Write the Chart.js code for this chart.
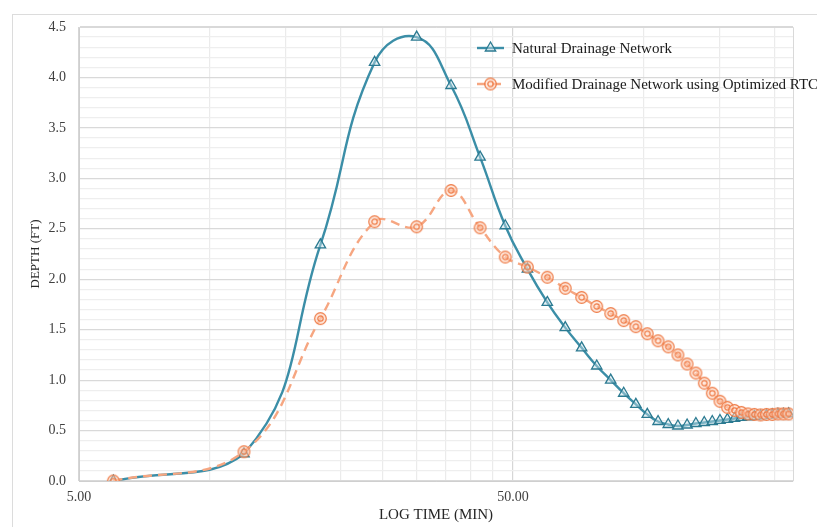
<!DOCTYPE html>
<html>
<head>
<meta charset="utf-8">
<script src="https://cdn.jsdelivr.net/npm/chart.js@4.4.1/dist/chart.umd.min.js"></script>
<style>
html,body{margin:0;padding:0;background:#fff;}
#wrap{width:817px;height:527px;position:relative;}
</style>
</head>
<body>
<div id="wrap"><canvas id="c" width="817" height="527"></canvas></div>
<script>
// ---- data ----
const timeMin = [6,12,18,24,30,36,42,48,54,60,66,72,78,84,90,96,102,108,114,120,126,132,138,144,150,156,162,168,174,180,186,192,198,204,210,216];
const naturalDepth = [0.00,0.27,2.34,4.15,4.40,3.92,3.21,2.53,2.10,1.77,1.52,1.32,1.14,1.00,0.87,0.76,0.66,0.59,0.56,0.545,0.555,0.57,0.58,0.59,0.60,0.61,0.62,0.63,0.635,0.64,0.645,0.65,0.655,0.66,0.66,0.665];
const modifiedDepth = [0.00,0.29,1.61,2.57,2.52,2.88,2.51,2.22,2.12,2.02,1.91,1.82,1.73,1.66,1.59,1.53,1.46,1.39,1.33,1.25,1.16,1.07,0.97,0.87,0.79,0.73,0.70,0.68,0.665,0.66,0.655,0.66,0.66,0.665,0.665,0.665];
const seriesNames = ['Natural Drainage Network','Modified Drainage Network using Optimized RTC'];
const xGridValues = [5,10,15,20,25,30,35,40,45,50,100,150,200];
const xLabelValues = [5,50];
const yLabelValues = [0,0.5,1,1.5,2,2.5,3,3.5,4,4.5];
const xTitle = 'LOG TIME (MIN)';
const yTitle = 'DEPTH (FT)';

const FONT = "'Liberation Serif','Times New Roman',serif";
const TEAL = '#3b8ea7';
const TEAL_MK = '#2b7a91';
const ORANGE = '#f6a681';
const ORANGE_MK = '#ee7a45';

// double-circle marker image
function makeRing(){
  const cv = document.createElement('canvas');
  cv.width = 15; cv.height = 15;
  const g = cv.getContext('2d');
  g.strokeStyle = ORANGE_MK; g.lineWidth = 1.2;
  g.fillStyle = 'rgba(255,215,195,0.55)';
  g.beginPath(); g.arc(7.5,7.5,5.8,0,Math.PI*2); g.fill(); g.stroke();
  g.beginPath(); g.arc(7.5,7.5,2.7,0,Math.PI*2); g.stroke();
  return cv;
}
const ring = makeRing();

const frame = {
  id:'frame',
  beforeDraw(chart){
    const c = chart.ctx;
    c.save();
    c.fillStyle = '#fff';
    c.fillRect(0,0,chart.width,chart.height);
    c.strokeStyle = '#dcdcdc'; c.lineWidth = 1;
    c.strokeRect(12.5,14.5,chart.width,chart.height);
    c.restore();
  },
  afterDatasetsDraw(chart){
    const a = chart.chartArea, c = chart.ctx;
    c.save();
    c.strokeStyle = '#d9d9d9'; c.lineWidth = 1;
    c.beginPath();
    c.moveTo(a.left, a.top+0.5); c.lineTo(a.right+0.5, a.top+0.5); c.lineTo(a.right+0.5, a.bottom);
    c.stroke();
    c.restore();
  },
  afterDraw(chart){
    const c = chart.ctx;
    const rows = [48, 84];
    chart.data.datasets.forEach((ds,i)=>{
      const y = rows[i];
      c.save();
      c.strokeStyle = ds.borderColor; c.lineWidth = ds.borderWidth;
      c.setLineDash(ds.borderDash || []);
      c.beginPath(); c.moveTo(477,y); c.lineTo(504,y); c.stroke();
      c.setLineDash([]);
      if (i===0){
        c.fillStyle = ds.pointBackgroundColor; c.strokeStyle = ds.pointBorderColor; c.lineWidth = 1.3;
        Chart.helpers.drawPoint(c,{pointStyle:'triangle',radius:6,borderWidth:1.3,rotation:0},490.5,y);
      } else {
        c.drawImage(ring, 490.5-7.5, y-7.5);
      }
      c.fillStyle = '#1a1a1a';
      c.font = "15px " + FONT;
      c.textBaseline = 'middle';
      c.fillText(ds.label, 512, y+1);
      c.restore();
    });
  }
};

const near = (v, arr) => arr.some(a => Math.abs(a - v) < 1e-6);

new Chart(document.getElementById('c'), {
  type:'line',
  data:{
    datasets:[
      {
        label: seriesNames[0],
        data: timeMin.map((t,i)=>({x:t,y:naturalDepth[i]})),
        borderColor: TEAL, borderWidth: 2.4, tension: 0.45,
        pointStyle:'triangle', pointRadius:6, pointBorderWidth:1.3,
        pointBorderColor: TEAL_MK, pointBackgroundColor:'rgba(200,225,232,0.45)',
        order: 2
      },
      {
        label: seriesNames[1],
        data: timeMin.map((t,i)=>({x:t,y:modifiedDepth[i]})),
        borderColor: ORANGE, borderWidth: 2.4, borderDash:[9,6], tension: 0.4,
        pointStyle: ring, pointRadius:6,
        order: 1
      }
    ]
  },
  options:{
    responsive:false, animation:false,
    layout:{padding:{left:0,right:24,top:27,bottom:0}},
    plugins:{legend:{display:false}, tooltip:{enabled:false}},
    scales:{
      x:{
        type:'logarithmic', min:5, max:221,
        afterBuildTicks(s){ s.ticks = xGridValues.map(v=>({value:v})); },
        afterFit(s){ s.height = 46; },
        ticks:{
          autoSkip:false, maxRotation:0, padding:8,
          color:'#404040', font:{family:FONT,size:14},
          callback(v){ return near(v,xLabelValues) ? Number(v).toFixed(2) : ''; }
        },
        grid:{
          drawTicks:false,
          color(ctx){ const v = ctx.tick ? ctx.tick.value : 0; return near(v,xLabelValues) ? '#d6d6d6' : '#ebebeb'; },
          lineWidth:1.2
        },
        border:{display:true,color:'#cfcfcf'},
        title:{display:true,text:xTitle,color:'#262626',font:{family:FONT,size:15},padding:{top:0,bottom:3}}
      },
      y:{
        min:0, max:4.5,
        afterFit(s){ s.width = 79; },
        ticks:{
          stepSize:0.1, autoSkip:false, padding:13,
          color:'#404040', font:{family:FONT,size:14},
          callback(v){ return near(v,yLabelValues) ? Number(v).toFixed(1) : ''; }
        },
        grid:{
          drawTicks:false,
          color(ctx){ const v = ctx.tick ? ctx.tick.value : 0; return near(v,yLabelValues) ? '#d9d9d9' : '#eeeeee'; },
          lineWidth:1.2
        },
        border:{display:true,color:'#cfcfcf'},
        title:{display:true,text:yTitle,color:'#262626',font:{family:FONT,size:13},padding:{top:28,bottom:0}}
      }
    }
  },
  plugins:[frame]
});
</script>
</body>
</html>
